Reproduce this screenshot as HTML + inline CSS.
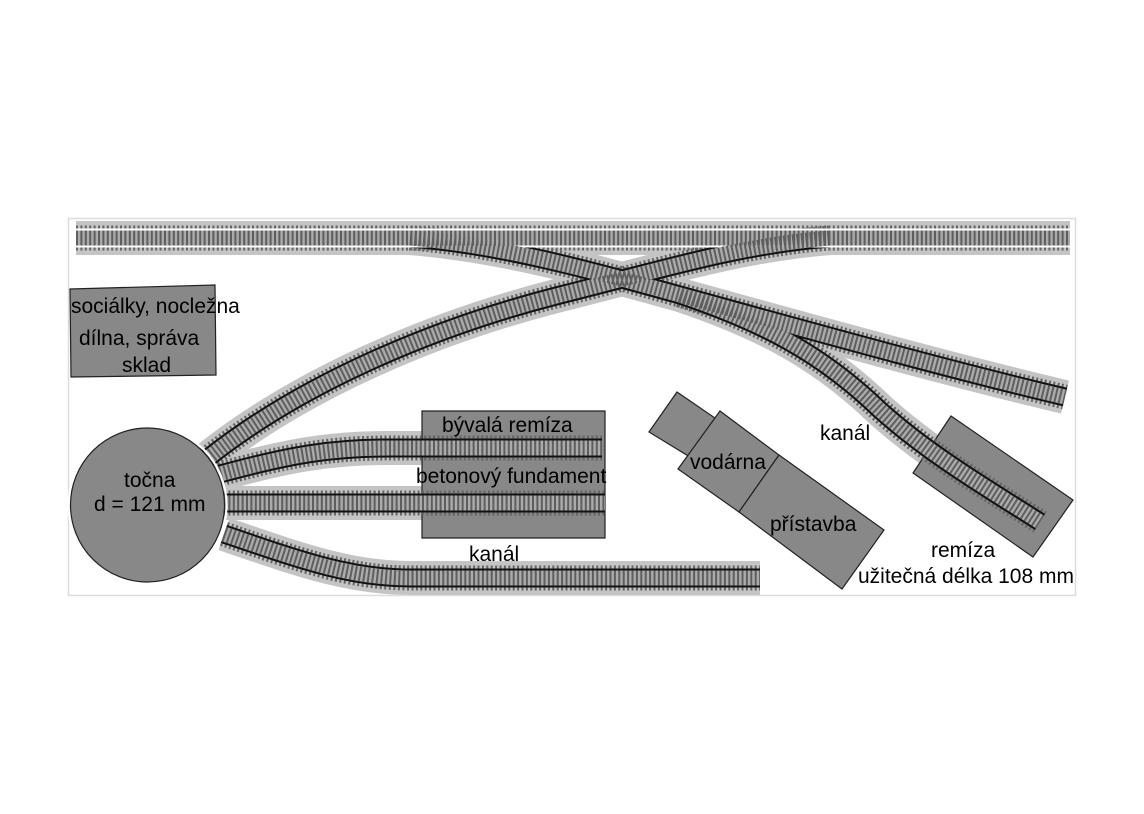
<!DOCTYPE html>
<html><head><meta charset="utf-8"><style>
html,body{margin:0;padding:0;background:#fff;}
svg{display:block;}
text{font-family:"Liberation Sans",sans-serif;font-size:21px;fill:#000;}
</style></head><body>
<svg width="1144" height="814" viewBox="0 0 1144 814" xmlns="http://www.w3.org/2000/svg">
<defs>
<path id="t1" d="M208,458 C300,385 430,328 560,295 C660,270 740,245 830,238"/>
<path id="t2" d="M410,238 C500,245 590,270 680,295 C800,328 950,370 1065,397"/>
<path id="t3" d="M680,295 C760,322 820,352 880,410 C930,455 990,490 1040,522"/>
<path id="t4" d="M220,474 C290,455 330,448 390,448 L602,448"/>
<path id="t5" d="M224,503 L605,503"/>
<path id="t6" d="M224,534 C300,560 350,578 410,578 L760,578"/>
</defs>
<rect x="68.5" y="218.5" width="1007" height="377" fill="#fff" stroke="#ddd" stroke-width="1.5"/>

<g fill="none" stroke="#c4c4c4" stroke-width="34">
<path d="M76,238 L1070,238"/>
<use href="#t1"/><use href="#t2"/><use href="#t3"/><use href="#t4"/><use href="#t5"/><use href="#t6"/>
</g>
<g fill="#888" stroke="#222" stroke-width="1.2">
<polygon points="422,411 605,411 605,538 422,538"/>
<polygon points="951,416 1073,500 1033,557 913,473"/>
</g>
<g fill="none" stroke="#666" stroke-width="25" stroke-dasharray="2 2.4">
<path d="M76,238 L1070,238"/>
<use href="#t1"/><use href="#t2"/><use href="#t3"/><use href="#t4"/><use href="#t5"/><use href="#t6"/>
</g>
<g fill="none" stroke="#111" stroke-width="19">
<use href="#t1"/><use href="#t2"/><use href="#t3"/><use href="#t4"/><use href="#t5"/><use href="#t6"/>
</g>
<g fill="none" stroke="#fff" stroke-width="19">
<path d="M76,238 L1070,238"/>
</g>
<g fill="none" stroke="#ababab" stroke-width="15">
<path d="M76,238 L1070,238"/>
<use href="#t1"/><use href="#t2"/><use href="#t3"/><use href="#t4"/><use href="#t5"/><use href="#t6"/>
</g>
<g fill="none" stroke="#5e5e5e" stroke-width="15" stroke-dasharray="2 2.4">
<path d="M76,238 L1070,238"/>
<use href="#t1"/><use href="#t2"/><use href="#t3"/><use href="#t4"/><use href="#t5"/><use href="#t6"/>
</g>

<g fill="#888" stroke="#222" stroke-width="1.2">
<polygon points="70,289 215,285 216,375 71,377"/>
<polygon points="677,392 715,418 690,457 649,432"/>
<polygon points="720,411 779,455 739,512 678,469"/>
<polygon points="779,455 884,530 842,589 739,512"/>
</g>
<circle cx="147.5" cy="505" r="77" fill="#888" stroke="#222" stroke-width="1.2"/>
<circle cx="147.5" cy="505" r="79" fill="none" stroke="#fff" stroke-width="2"/>

<text x="71" y="313">sociálky, nocležna</text>
<text x="79" y="345">dílna, správa</text>
<text x="122" y="372">sklad</text>
<text x="124" y="487">točna</text>
<text x="94" y="511">d = 121 mm</text>
<text x="442" y="432">bývalá remíza</text>
<text x="416" y="483">betonový fundament</text>
<text x="469" y="561">kanál</text>
<text x="690" y="469">vodárna</text>
<text x="770" y="531">přístavba</text>
<text x="820" y="440">kanál</text>
<text x="931" y="557">remíza</text>
<text x="858" y="583">užitečná délka 108 mm</text>
</svg>
</body></html>
